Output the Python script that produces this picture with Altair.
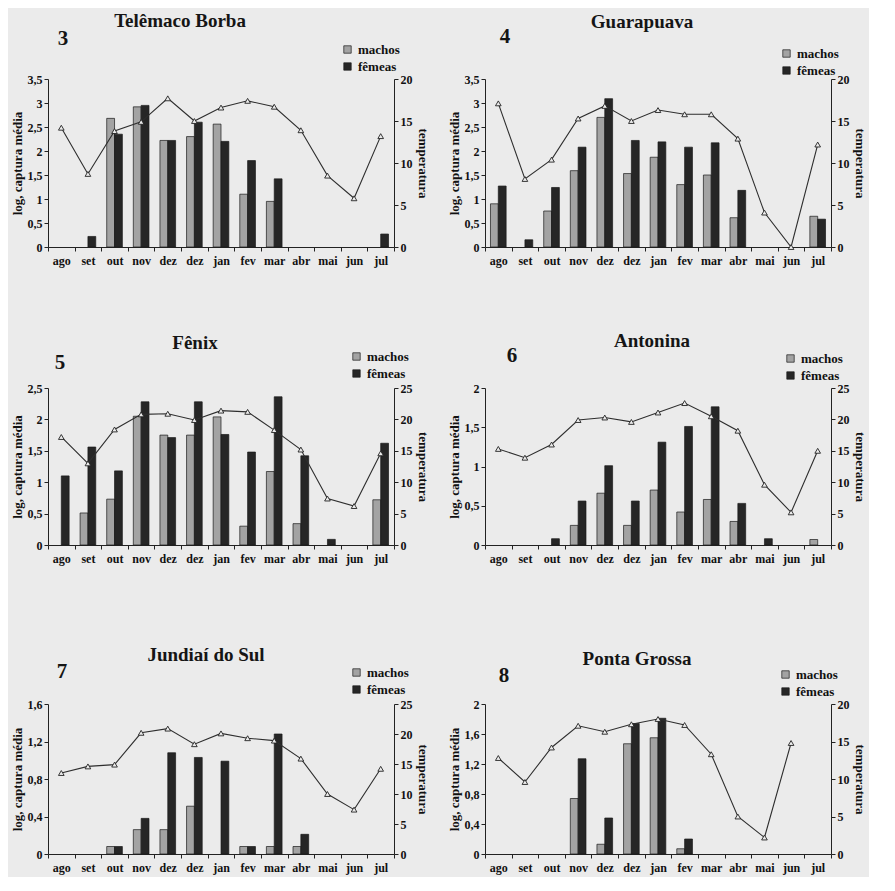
import altair as alt
import pandas as pd

# ---------------- data ----------------
months = ["ago", "set", "out", "nov", "dez", "dez", "jan", "fev", "mar", "abr", "mai", "jun", "jul"]
sexes = ["machos", "fêmeas"]

# 3 - Telêmaco Borba
tb_machos = [0, 0, 2.68, 2.92, 2.22, 2.30, 2.56, 1.10, 0.95, 0, 0, 0, 0]
tb_femeas = [0, 0.22, 2.35, 2.95, 2.22, 2.60, 2.20, 1.80, 1.42, 0, 0, 0, 0.27]
tb_temp = [14.2, 8.7, 13.8, 14.9, 17.7, 15.0, 16.6, 17.4, 16.7, 13.9, 8.5, 5.8, 13.2]

# 4 - Guarapuava
gp_machos = [0.90, 0, 0.75, 1.59, 2.70, 1.53, 1.87, 1.30, 1.50, 0.61, 0, 0, 0.64]
gp_femeas = [1.27, 0.15, 1.24, 2.08, 3.09, 2.22, 2.19, 2.08, 2.17, 1.18, 0, 0, 0.58]
gp_temp = [17.1, 8.1, 10.4, 15.3, 16.8, 15.0, 16.3, 15.8, 15.8, 12.9, 4.1, 0, 12.2]

# 5 - Fênix
fx_machos = [0, 0.51, 0.73, 2.05, 1.75, 1.75, 2.04, 0.30, 1.17, 0.34, 0, 0, 0.72]
fx_femeas = [1.10, 1.56, 1.18, 2.28, 1.71, 2.28, 1.76, 1.48, 2.36, 1.42, 0.09, 0, 1.62]
fx_temp = [17.2, 13.0, 18.4, 20.8, 20.9, 19.9, 21.4, 21.2, 18.3, 15.2, 7.4, 6.2, 14.6]

# 6 - Antonina
an_machos = [0, 0, 0, 0.25, 0.66, 0.25, 0.70, 0.42, 0.58, 0.30, 0, 0, 0.07]
an_femeas = [0, 0, 0.08, 0.56, 1.01, 0.56, 1.31, 1.51, 1.76, 0.53, 0.08, 0, 0]
an_temp = [15.3, 13.9, 16.0, 19.9, 20.3, 19.6, 21.1, 22.6, 20.5, 18.2, 9.6, 5.2, 15.0]

# 7 - Jundiaí do Sul
js_machos = [0, 0, 0.08, 0.26, 0.26, 0.51, 0, 0.08, 0.08, 0.08, 0, 0, 0]
js_femeas = [0, 0, 0.08, 0.38, 1.08, 1.03, 0.99, 0.08, 1.28, 0.21, 0, 0, 0]
js_temp = [13.5, 14.6, 14.9, 20.2, 20.9, 18.3, 20.1, 19.3, 18.9, 15.9, 10.0, 7.4, 14.2]

# 8 - Ponta Grossa
pg_machos = [0, 0, 0, 0.74, 0.13, 1.47, 1.55, 0.07, 0, 0, 0, 0, 0]
pg_femeas = [0, 0, 0, 1.27, 0.48, 1.74, 1.81, 0.20, 0, 0, 0, 0, 0]
pg_temp = [12.8, 9.6, 14.2, 17.1, 16.3, 17.3, 18.0, 17.2, 13.3, 5.0, 2.2, 14.8, None]

# axis tick values
ticks_35 = [0, 0.5, 1, 1.5, 2, 2.5, 3, 3.5]
ticks_25 = [0, 0.5, 1, 1.5, 2, 2.5]
ticks_20 = [0, 0.5, 1, 1.5, 2]
ticks_16 = [0, 0.4, 0.8, 1.2, 1.6]
ticks_20b = [0, 0.4, 0.8, 1.2, 1.6, 2.0]
temp_ticks_20 = [0, 5, 10, 15, 20]
temp_ticks_25 = [0, 5, 10, 15, 20, 25]

# ---------------- style ----------------
BG = "#ebebeb"
FONT = "Liberation Serif"
W = 346
month_expr = "[" + ",".join("'%s'" % m for m in months) + "][datum.value]"
comma_expr = "replace(format(datum.value, '.1~f'), '.', ',')"


def panel(num, name, machos, femeas, temp, yticks, tticks, height, tpos, npos, lpos):
    n = len(months)
    bars_df = pd.DataFrame({
        "idx": list(range(n)) * 2,
        "sexo": [sexes[0]] * n + [sexes[1]] * n,
        "valor": machos + femeas,
    })
    temp_df = pd.DataFrame({"idx": list(range(n)), "temp": temp})

    x = alt.X(
        "idx:O",
        scale=alt.Scale(domain=list(range(n)), paddingInner=0, paddingOuter=0),
        axis=alt.Axis(title=None, labelExpr=month_expr, labelAngle=0,
                      tickBand="extent", labelPadding=4),
    )

    bars = alt.Chart(bars_df).transform_filter(
        "datum.valor > 0"
    ).mark_bar(stroke="#1a1a1a", strokeWidth=0.7).encode(
        x=x,
        xOffset=alt.XOffset("sexo:N", sort=sexes,
                            scale=alt.Scale(domain=sexes, paddingOuter=0.7, paddingInner=0)),
        y=alt.Y("valor:Q", scale=alt.Scale(domain=[0, yticks[-1]], nice=False),
                axis=alt.Axis(values=yticks, labelExpr=comma_expr,
                              title="log, captura média")),
        fill=alt.Fill("sexo:N", sort=sexes,
                      scale=alt.Scale(domain=sexes, range=["#a3a3a3", "#262626"]),
                      legend=alt.Legend(orient="none", legendX=lpos[0], legendY=lpos[1],
                                        title=None)),
    )

    line = alt.Chart(temp_df).mark_line(
        color="#2e2e2e", strokeWidth=1.1,
        point=alt.OverlayMarkDef(shape="triangle-up", filled=True, fill=BG,
                                 stroke="#222222", strokeWidth=0.9, size=32),
    ).encode(
        x=x,
        y=alt.Y("temp:Q", scale=alt.Scale(domain=[0, tticks[-1]], nice=False),
                axis=alt.Axis(orient="right", values=tticks, title="temperatura")),
    )

    ttl = alt.Chart(pd.DataFrame({"t": [name]})).mark_text(
        font=FONT, fontSize=19, fontWeight="bold", color="#151515",
        align="center", baseline="middle",
    ).encode(text="t:N", x=alt.value(tpos[0]), y=alt.value(tpos[1]))

    nmb = alt.Chart(pd.DataFrame({"t": [num]})).mark_text(
        font=FONT, fontSize=21, fontWeight="bold", color="#151515",
        align="center", baseline="middle",
    ).encode(text="t:N", x=alt.value(npos[0]), y=alt.value(npos[1]))

    return alt.layer(bars, line, ttl, nmb).resolve_scale(y="independent").properties(
        width=W, height=height)


p3 = panel("3", "Telêmaco Borba", tb_machos, tb_femeas, tb_temp, ticks_35, temp_ticks_20,
           168, (132, -58), (15, -40), (293, -36))
p4 = panel("4", "Guarapuava", gp_machos, gp_femeas, gp_temp, ticks_35, temp_ticks_20,
           168, (157, -57), (20, -42), (295, -32))
p5 = panel("5", "Fênix", fx_machos, fx_femeas, fx_temp, ticks_25, temp_ticks_25,
           157, (147, -45), (12, -25), (302, -38))
p6 = panel("6", "Antonina", an_machos, an_femeas, an_temp, ticks_20, temp_ticks_25,
           157, (167, -47), (27, -32), (299, -36))
p7 = panel("7", "Jundiaí do Sul", js_machos, js_femeas, js_temp, ticks_16, temp_ticks_25,
           150, (158, -49), (14, -32), (302, -38))
p8 = panel("8", "Ponta Grossa", pg_machos, pg_femeas, pg_temp, ticks_20b, temp_ticks_20,
           150, (152, -45), (19, -28), (294, -36))

row1 = alt.hconcat(p3, p4, spacing=20).resolve_scale(fill="independent")
row2 = alt.hconcat(p5, p6, spacing=20).resolve_scale(fill="independent")
row3 = alt.hconcat(p7, p8, spacing=20).resolve_scale(fill="independent")

chart = alt.vconcat(
    row1,
    alt.vconcat(row2, row3, spacing=82).resolve_scale(fill="independent"),
    spacing=66,
).resolve_scale(fill="independent").properties(
    padding={"left": 3, "top": 4, "right": 4, "bottom": 4}
).configure(
    background=BG,
).configure_view(
    strokeWidth=0,
).configure_axis(
    labelFont=FONT, titleFont=FONT,
    labelFontWeight="bold", titleFontWeight="bold",
    labelFontSize=12, titleFontSize=13,
    labelColor="#111111", titleColor="#111111",
    domainColor="#222222", tickColor="#222222",
    grid=False, tickSize=4, titlePadding=3,
).configure_legend(
    labelFont=FONT, labelFontWeight="bold", labelFontSize=13,
    labelColor="#111111", symbolType="square", symbolSize=55,
    symbolStrokeColor="#1a1a1a", symbolStrokeWidth=0.7, rowPadding=3,
)

chart.save("out.html", embed_options={"renderer": "svg", "actions": False})
